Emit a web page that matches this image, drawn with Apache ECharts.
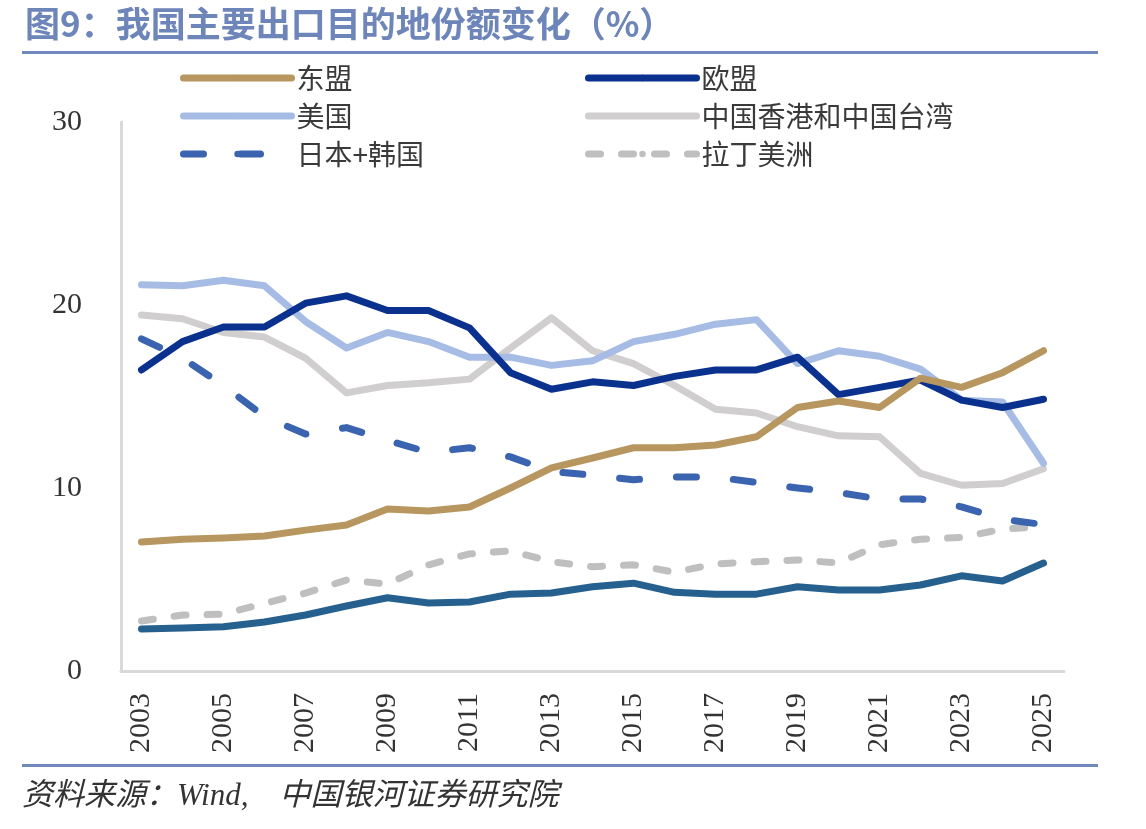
<!DOCTYPE html>
<html>
<head>
<meta charset="utf-8">
<script src="https://cdn.jsdelivr.net/npm/echarts@6/dist/echarts.min.js"></script>
<style>
html,body{margin:0;padding:0;background:#fff;}
#chart{width:1146px;height:829px;}
</style>
</head>
<body>
<div id="chart"></div>
<script>
const years = ['2003','2004','2005','2006','2007','2008','2009','2010','2011','2012','2013','2014','2015','2016','2017','2018','2019','2020','2021','2022','2023','2024','2025'];
const asean   = [7.05,7.2,7.27,7.38,7.7,7.98,8.85,8.74,8.96,10.0,11.1,11.64,12.2,12.2,12.35,12.8,14.4,14.75,14.4,16.0,15.5,16.3,17.5];
const eu      = [16.45,18.0,18.8,18.8,20.1,20.5,19.7,19.7,18.75,16.3,15.4,15.8,15.6,16.1,16.45,16.45,17.15,15.1,15.5,15.9,14.8,14.4,14.85];
const us      = [21.1,21.05,21.35,21.05,19.1,17.65,18.5,18.0,17.15,17.15,16.7,16.95,18.0,18.4,18.95,19.2,16.8,17.5,17.2,16.5,14.8,14.7,11.35];
const hktw    = [19.45,19.25,18.5,18.25,17.1,15.2,15.6,15.75,15.95,17.65,19.3,17.5,16.8,15.6,14.3,14.1,13.35,12.85,12.8,10.8,10.15,10.25,11.05];
const jpkr    = [18.15,17.1,15.6,13.9,12.95,13.3,12.6,11.95,12.2,11.7,10.9,10.7,10.45,10.6,10.6,10.3,10.0,9.75,9.4,9.4,8.97,8.3,8.0];
const latam   = [2.73,3.06,3.1,3.7,4.26,4.97,4.75,5.8,6.4,6.57,5.97,5.7,5.8,5.4,5.85,5.97,6.07,5.9,6.9,7.2,7.3,7.75,7.9];
const other   = [2.3,2.35,2.42,2.68,3.06,3.55,4.0,3.72,3.77,4.2,4.26,4.6,4.8,4.3,4.2,4.2,4.6,4.43,4.43,4.7,5.2,4.92,5.9];
const yTicks  = [0,10,20,30];
const names = ['东盟','欧盟','美国','中国香港和中国台湾','日本+韩国','拉丁美洲'];

const chart = echarts.init(document.getElementById('chart'));
const cjk = '"Noto Sans CJK SC","Noto Sans",sans-serif';
const serif = '"Liberation Serif","DejaVu Serif",serif';
function ln(name, data, color, dash){
  return {
    name: name, type:'line', data: data, symbol:'none', smooth:false,
    lineStyle:{color:color, width:7, type: dash || 'solid', cap:'round', join:'round'},
    itemStyle:{color:color}, z: 3
  };
}
const legendCommon = {
  orient:'vertical', itemWidth:108, itemHeight:8, itemGap:8,
  textStyle:{fontFamily:cjk, fontSize:28, color:'#3a3a3a', lineHeight:30},
  lineStyle:{width:7}
};
chart.setOption({
  backgroundColor:'#fff',
  animation:false,
  title:{
    text:'图9：我国主要出口目的地份额变化（%）',
    left:20, top:1,
    textStyle:{fontFamily:cjk, fontSize:35, fontWeight:'bold', color:'#6d85b9'}
  },
  graphic:[
    {type:'rect', shape:{x:22,y:51,width:1076,height:3}, style:{fill:'#7189bd'}},
    {type:'rect', shape:{x:22,y:764,width:1076,height:3}, style:{fill:'#7189bd'}},
    {type:'text', left:22, top:781, style:{text:'资料来源：Wind,\u3000中国银河证券研究院', font:'italic 31px "Liberation Serif","Noto Sans CJK SC",serif', fill:'#333'}}
  ],
  legend:[
    Object.assign({}, legendCommon, {left:175, top:58, data:[names[0],names[2],names[4]]}),
    Object.assign({}, legendCommon, {left:580, top:58, data:[names[1],names[3],names[5]]})
  ],
  grid:{left:121, right:82, top:122, bottom:158, containLabel:false},
  xAxis:{
    type:'category', data:years, boundaryGap:true,
    axisLine:{lineStyle:{color:'#d9d9d9', width:3}},
    axisTick:{show:false},
    axisLabel:{interval:1, rotate:90, margin:22, fontFamily:serif, fontSize:30, color:'#333'}
  },
  yAxis:{
    type:'value', min:yTicks[0], max:yTicks[yTicks.length-1], interval:10,
    axisLine:{show:true, lineStyle:{color:'#d9d9d9', width:3}},
    axisTick:{show:false},
    splitLine:{show:false},
    axisLabel:{margin:39, fontFamily:serif, fontSize:30, color:'#333'}
  },
  series:[
    ln('其他', other, '#25608f'),
    ln(names[5], latam, '#bfbfbf', [12,21]),
    ln(names[4], jpkr, '#3a63b0', [20,37]),
    ln(names[3], hktw, '#d0cece'),
    ln(names[2], us, '#a6bce5'),
    ln(names[1], eu, '#0b318f'),
    ln(names[0], asean, '#b8965f')
  ]
});
</script>
</body>
</html>
